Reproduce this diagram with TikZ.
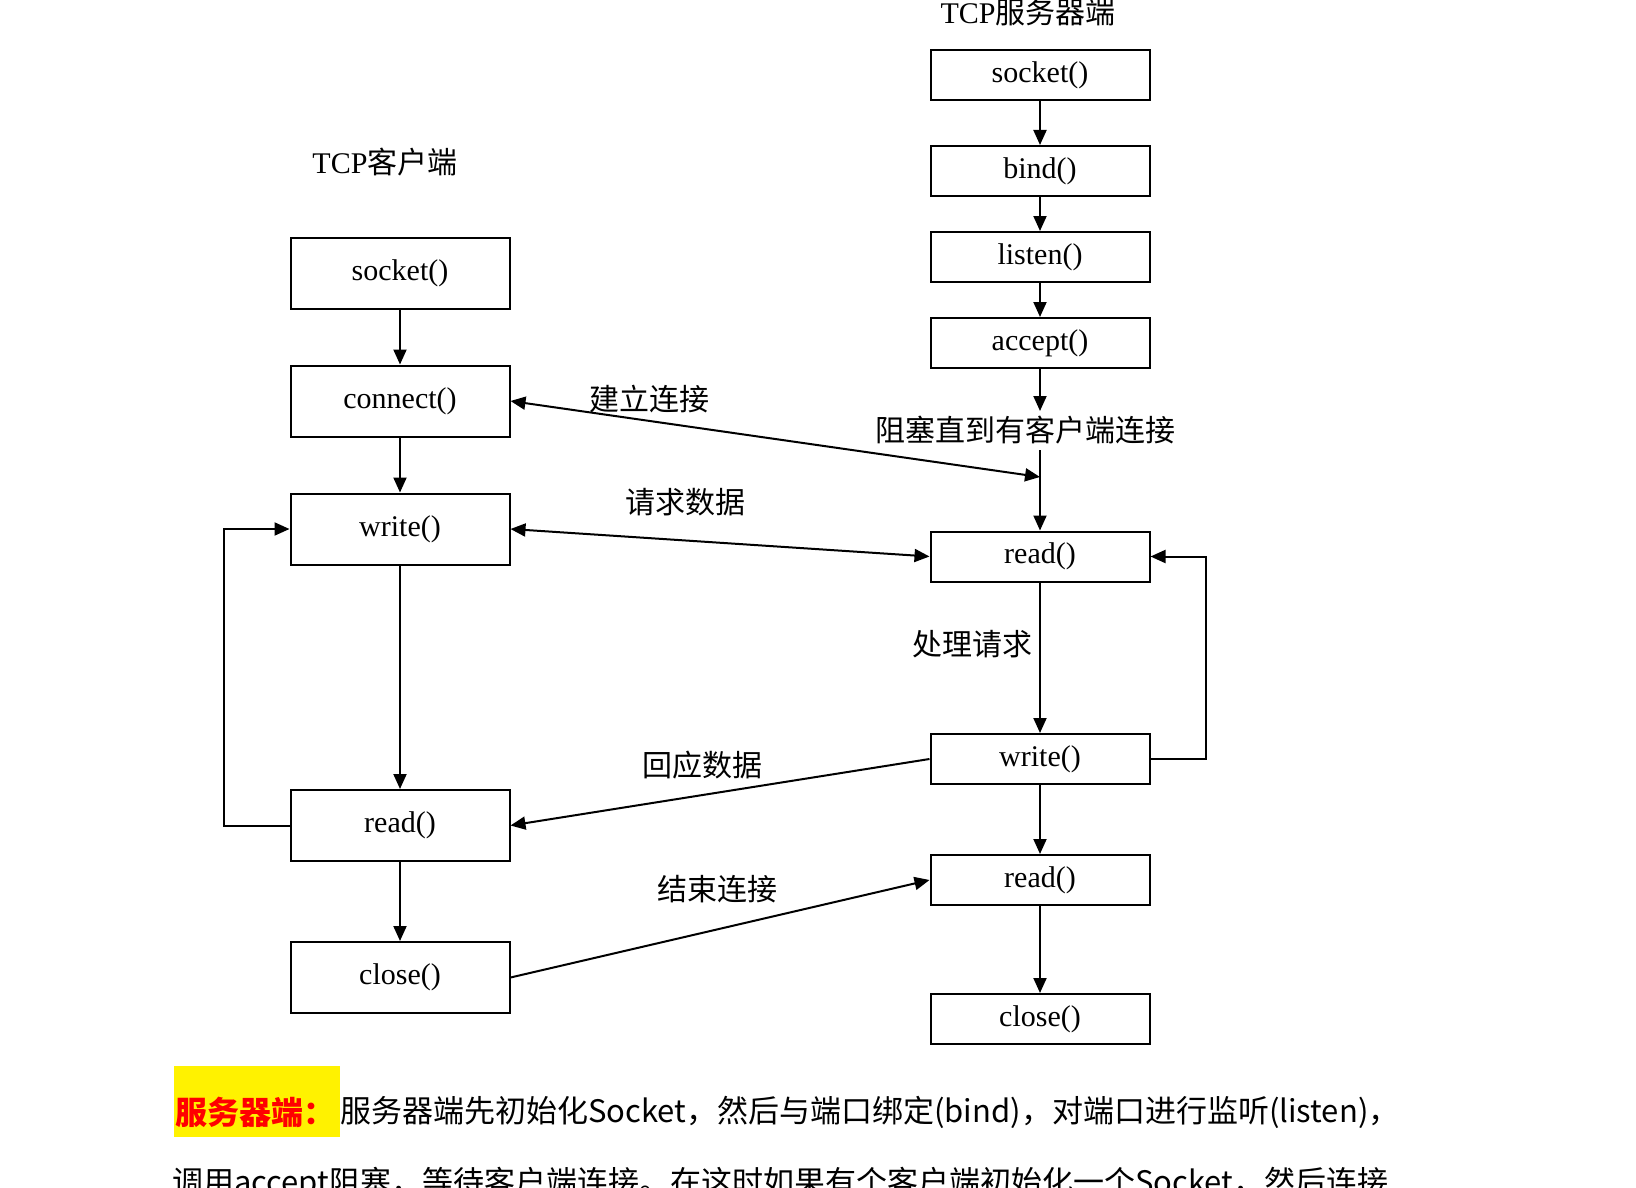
\documentclass[tikz,border=0pt]{standalone}
\usepackage{fontspec}
\setmainfont{Liberation Serif}
\newfontfamily\cjk{Noto Sans CJK SC}
\usetikzlibrary{arrows.meta}

\begin{document}
\begin{tikzpicture}[x=1pt,y=-1pt,
	cbox/.style={draw,line width=2pt,minimum width=219pt,minimum height=71pt,inner sep=0pt,font=\fontsize{30}{30}\selectfont},
	sbox/.style={cbox,minimum height=50pt},
	lbl/.style={inner sep=0pt,font=\cjk\fontsize{30}{30}\selectfont},
	flow/.style={line width=2pt,-{Triangle[length=15pt,width=13pt]}},
	twoway/.style={line width=2pt,{Triangle[length=15pt,width=13pt]}-{Triangle[length=15pt,width=13pt]}}]
			\useasboundingbox (0,0) rectangle (1636,1188);
			\clip (0,0) rectangle (1636,1188);
			\fill[white] (0,0) rectangle (1636,1188);
			
			\node[inner sep=0pt,font=\fontsize{30}{30}\selectfont] (ctitle) at (385,162) {TCP{\cjk 客户端}};
			\node[inner sep=0pt,font=\fontsize{30}{30}\selectfont] (stitle) at (1028,12) {TCP{\cjk 服务器端}};
			
			\node[cbox] (csock) at (400,273.5) {socket()};
			\node[cbox] (cconn) at (400,401) {connect()};
			\node[cbox] (cwrite) at (400,529) {write()};
			\node[cbox] (cread) at (400,825.5) {read()};
			\node[cbox] (cclose) at (400,977.5) {close()};
			
			\node[sbox] (ssock) at (1040,75) {socket()};
			\node[sbox] (sbind) at (1040,171) {bind()};
			\node[sbox] (slisten) at (1040,257) {listen()};
			\node[sbox] (saccept) at (1040,343) {accept()};
			\node[sbox] (sread) at (1040,556.5) {read()};
			\node[sbox] (swrite) at (1040,759) {write()};
			\node[sbox] (sread2) at (1040,880) {read()};
			\node[sbox] (sclose) at (1040,1019) {close()};
			
			\node[lbl] (wait) at (1025,430) {阻塞直到有客户端连接};
			\node[lbl] (handle) at (972,644) {处理请求};
			\node[lbl] (lconn) at (649,399) {建立连接};
			\node[lbl] (lreq) at (685,502) {请求数据};
			\node[lbl] (lresp) at (702,765) {回应数据};
			\node[lbl] (lend) at (717,889) {结束连接};
			
			\coordinate (block) at (1040,411);
			\coordinate (unblock) at (1040,450);
			\coordinate (meet) at (1040,477);
			
			\draw[flow] (csock) -- (cconn);
			\draw[flow] (cconn) -- (cwrite);
			\draw[flow] (cwrite) -- (cread);
			\draw[flow] (cread) -- (cclose);
			\draw[flow] (cread.west) -- (224,825.5) -- (224,529) -- (cwrite.west);
			
			\draw[flow] (ssock) -- (sbind);
			\draw[flow] (sbind) -- (slisten);
			\draw[flow] (slisten) -- (saccept);
			\draw[flow] (saccept) -- (block);
			\draw[flow] (unblock) -- (sread);
			\draw[flow] (sread) -- (swrite);
			\draw[flow] (swrite) -- (sread2);
			\draw[flow] (sread2) -- (sclose);
			\draw[flow] (swrite.east) -- (1206,759) -- (1206,556.5) -- (sread.east);
			
			\draw[twoway] (cconn.east) -- (meet);
			\draw[twoway] (cwrite.east) -- (sread.west);
			\draw[flow] (swrite.west) -- (cread.east);
			\draw[flow] (cclose.east) -- (sread2.west);
			
			\fill[yellow] (174,1066) rectangle (340,1137);
			\node[inner sep=0pt,anchor=west,text=red,font=\cjk\bfseries\fontsize{32}{32}\selectfont] (head) at (175,1112) {服务器端：};
			\node[inner sep=0pt,anchor=west,font=\cjk\fontsize{31}{31}\selectfont] (line1) at (340,1112) {服务器端先初始化Socket，然后与端口绑定(bind)，对端口进行监听(listen)，};
			\node[inner sep=0pt,anchor=west,font=\cjk\fontsize{31}{31}\selectfont] (line2) at (172,1184) {调用accept阻塞，等待客户端连接。在这时如果有个客户端初始化一个Socket，然后连接};
			\end{tikzpicture}
\end{document}
